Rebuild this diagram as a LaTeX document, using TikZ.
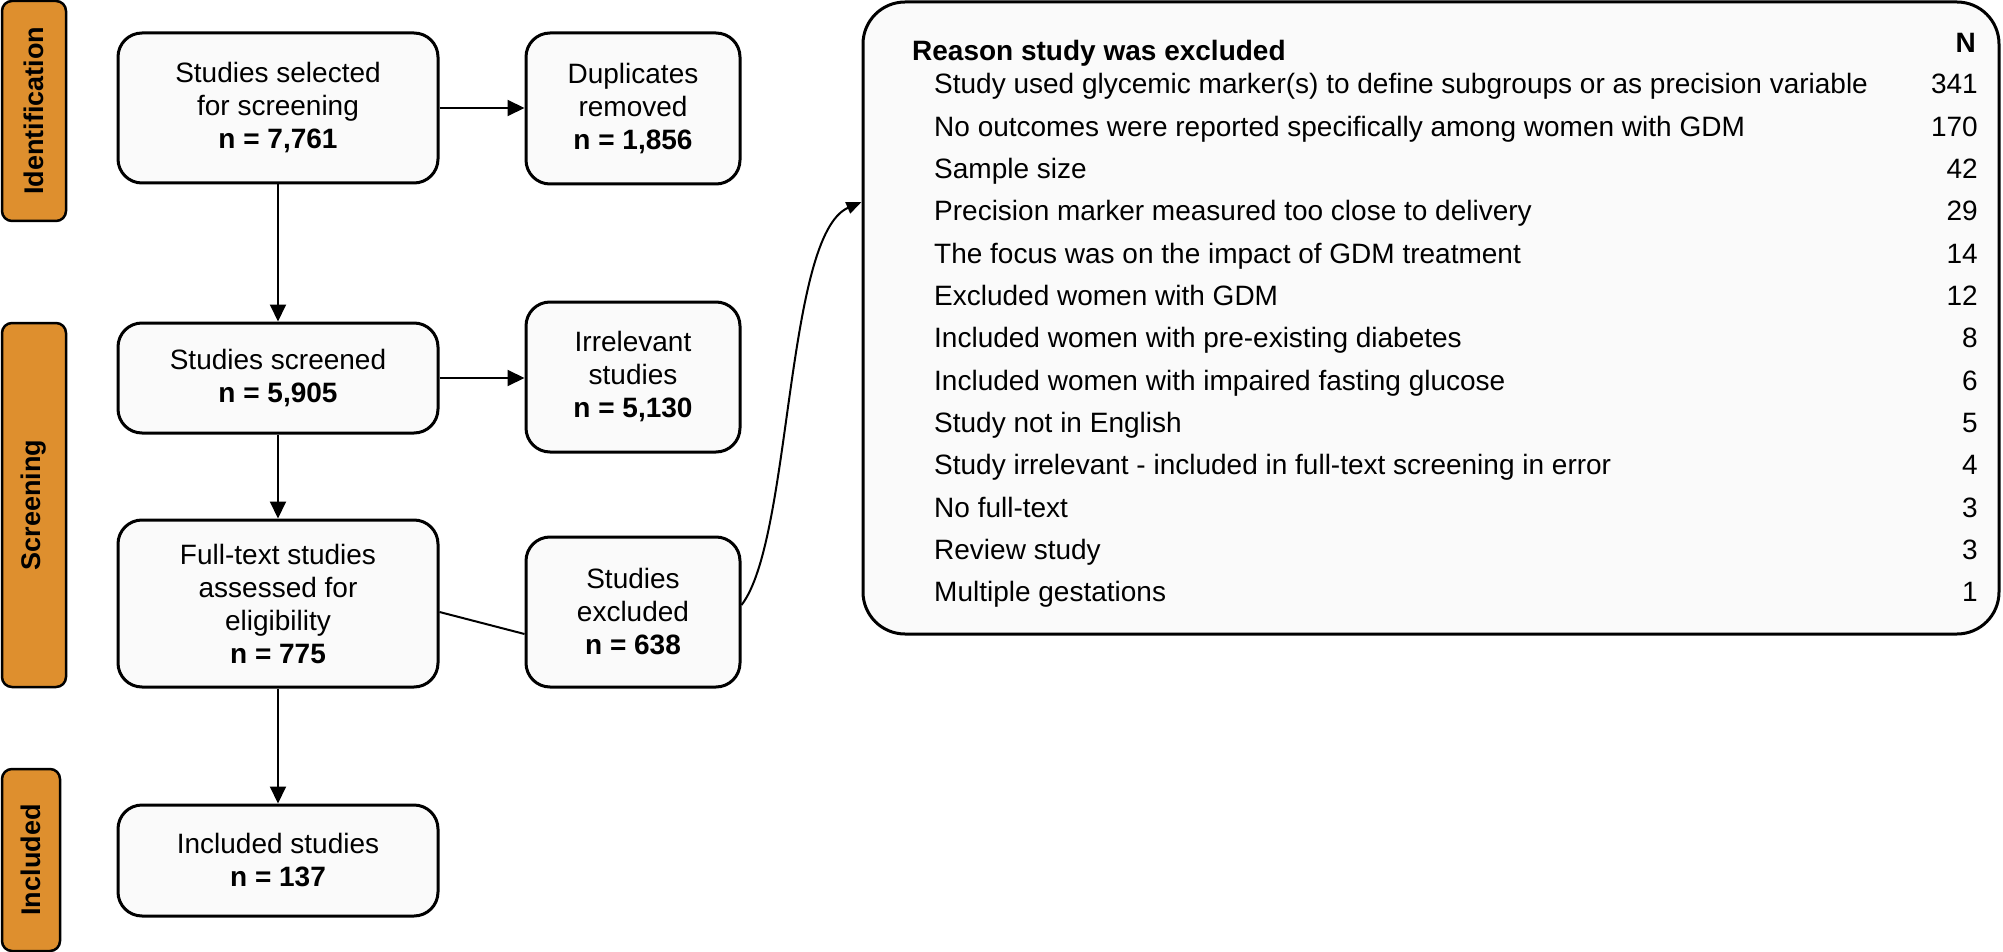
\documentclass[tikz,border=0pt]{standalone}
\usepackage{fontspec}
\setmainfont{Liberation Sans}
\usetikzlibrary{arrows.meta,calc}
\definecolor{taborange}{RGB}{222,143,46}
\definecolor{boxfill}{RGB}{250,250,250}
\begin{document}
\begin{tikzpicture}[x=1pt,y=-1pt,
  flowbox/.style={draw=black,line width=3pt,fill=boxfill,rounded corners=24pt,align=center,inner sep=0pt,font=\fontsize{28}{33}\selectfont},
  tabbox/.style={draw=black,line width=2.5pt,fill=taborange,rounded corners=10pt,inner sep=0pt,rotate=90,font=\fontsize{27}{33}\selectfont\bfseries},
  bigbox/.style={draw=black,line width=3pt,fill=boxfill,rounded corners=42pt,inner sep=0pt},
  rowtext/.style={inner sep=0pt,font=\fontsize{28}{33}\selectfont},
  arr/.style={line width=2pt,-{Triangle[length=17pt,width=16pt]}},
  curvearr/.style={line width=2pt,-{Triangle[length=15pt,width=12pt]}},
  plainline/.style={line width=2pt}
]
\useasboundingbox (0,0) rectangle (2003,952);

% stage tabs
\node[tabbox,minimum width=220pt,minimum height=64pt] (tid) at (34,111) {Identification};
\node[tabbox,minimum width=364pt,minimum height=64pt] (tsc) at (34,505) {Screening};
\node[tabbox,minimum width=182pt,minimum height=58pt] (tin) at (31,860) {Included};

% flow boxes
\node[flowbox,minimum width=320pt,minimum height=150pt] (sel) at (278,108) {Studies selected\\for screening\\\textbf{n = 7,761}};
\node[flowbox,minimum width=214pt,minimum height=151pt] (dup) at (633,108.5) {Duplicates\\removed\\\textbf{n = 1,856}};
\node[flowbox,minimum width=320pt,minimum height=110pt] (scr) at (278,378) {Studies screened\\\textbf{n = 5,905}};
\node[flowbox,minimum width=214pt,minimum height=150pt] (irr) at (633,377) {Irrelevant\\studies\\\textbf{n = 5,130}};
\node[flowbox,minimum width=320pt,minimum height=167pt] (ft) at (278,603.5) {Full-text studies\\assessed for\\eligibility\\\textbf{n = 775}};
\node[flowbox,minimum width=214pt,minimum height=150pt] (ex) at (633,612) {Studies\\excluded\\\textbf{n = 638}};
\node[flowbox,minimum width=320pt,minimum height=111pt] (inc) at (278,860.5) {Included studies\\\textbf{n = 137}};

% reasons box
\node[bigbox,minimum width=1136pt,minimum height=632pt] (rs) at (1431,318) {};
\node[rowtext,anchor=base west,font=\fontsize{28}{33}\selectfont\bfseries] (rh) at (912,61) {Reason study was excluded};
\node[rowtext,anchor=base east,font=\fontsize{28}{33}\selectfont\bfseries] (nh) at (1976,53) {N};
\foreach \t/\n [count=\i from 0] in {
  {Study used glycemic marker(s) to define subgroups or as precision variable}/341,
  {No outcomes were reported specifically among women with GDM}/170,
  {Sample size}/42,
  {Precision marker measured too close to delivery}/29,
  {The focus was on the impact of GDM treatment}/14,
  {Excluded women with GDM}/12,
  {Included women with pre-existing diabetes}/8,
  {Included women with impaired fasting glucose}/6,
  {Study not in English}/5,
  {Study irrelevant - included in full-text screening in error}/4,
  {No full-text}/3,
  {Review study}/3,
  {Multiple gestations}/1}{
  \node[rowtext,anchor=base west] (r\i) at (934,{94+42.33*\i}) {\t};
  \node[rowtext,anchor=base east] (n\i) at (1978,{94+42.33*\i}) {\n};
}

% connectors
\draw[arr] (sel.east) -- (dup.west |- sel.east);
\draw[arr] (scr.east) -- (irr.west |- scr.east);
\draw[arr] (sel.south) -- (scr.north);
\draw[arr] (scr.south) -- (ft.north);
\draw[arr] (ft.south) -- (inc.north);
\draw[plainline] ($(ft.east)+(0,8.5)$) -- ($(ex.west)+(0,22)$);
\draw[curvearr] ($(ex.east)+(0,-7)$) .. controls (792,540) and (785,235) .. ($(rs.west)+(0,-116)$);
\end{tikzpicture}
\end{document}
